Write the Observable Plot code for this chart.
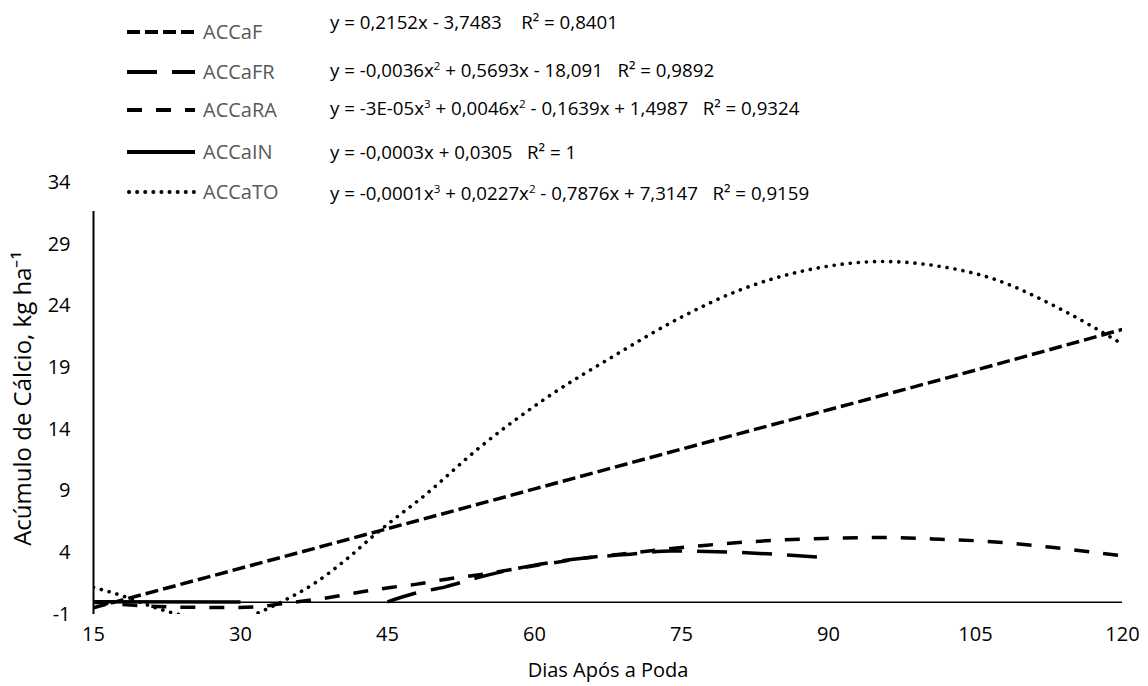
<!DOCTYPE html>
<html>
<head>
<meta charset="utf-8">
<script src="https://cdn.jsdelivr.net/npm/d3@7"></script>
<script src="https://cdn.jsdelivr.net/npm/@observablehq/plot@0.6"></script>
<style>
  body { margin: 0; background: #fff; }
  #wrap { position: relative; width: 1148px; height: 686px; font-family: "Open Sans", sans-serif; }
  #chart { position: absolute; left: 0; top: 0; }
  #legend { position: absolute; left: 80px; top: 0; width: 880px; height: 211px; background: #fff; }
  .sample { position: absolute; left: 47px; width: 70px; height: 12px; }
  .lab { position: absolute; left: 123px; font-size: 20px; line-height: 24px; color: #595959; white-space: pre; }
  .eq { position: absolute; left: 250px; font-size: 18.7px; line-height: 24px; color: #000; white-space: pre; }
  .eq sup { font-size: 0.62em; line-height: 0; vertical-align: 0.62em; }
</style>
</head>
<body>
<div id="wrap">
  <div id="chart"></div>
  <div id="legend"></div>
</div>
<script>
// ---- data ----
const seriesNames = ["ACCaF", "ACCaFR", "ACCaRA", "ACCaIN", "ACCaTO"];
const equations = [
  "y = 0,2152x - 3,7483    R² = 0,8401",
  "y = -0,0036x<sup>2</sup> + 0,5693x - 18,091   R² = 0,9892",
  "y = -3E-05x<sup>3</sup> + 0,0046x<sup>2</sup> - 0,1639x + 1,4987   R² = 0,9324",
  "y = -0,0003x + 0,0305   R² = 1",
  "y = -0,0001x<sup>3</sup> + 0,0227x<sup>2</sup> - 0,7876x + 7,3147   R² = 0,9159"
];
const xTicks = [15, 30, 45, 60, 75, 90, 105, 120];
const yTicks = [-1, 4, 9, 14, 19, 24, 29, 34];

const xF = [15, 45, 75, 105, 120];
const yF = [-0.45, 5.95, 12.4, 18.8, 22.1];

const xFR = [45, 47.7, 50.9, 54.5, 60, 64.7, 69.8, 74, 80, 85, 90];
const yFR = [0.03, 0.7, 1.24, 2.05, 3.0, 3.54, 3.89, 4.14, 4.06, 3.86, 3.6];

const xRA = [15, 18, 21.5, 25, 29, 32, 34, 37, 39.5, 42.4, 45.3, 48, 51, 55, 60, 65, 70, 74, 77.6, 83.6, 89.5, 95.3, 101.4, 107.4, 113.2, 120];
const yRA = [0.0, -0.2, -0.35, -0.42, -0.43, -0.35, -0.15, 0.15, 0.43, 0.84, 1.19, 1.46, 1.86, 2.3, 2.95, 3.55, 4.0, 4.35, 4.62, 4.97, 5.16, 5.24, 5.1, 4.86, 4.4, 3.75];

const xIN = [15, 30];
const yIN = [0.03, 0.02];

const xTO = [15, 18, 21.5, 24, 27, 30, 32, 34, 37.5, 41, 43.6, 45.8, 48.4, 54.5, 61.3, 68, 75, 81, 87.8, 95.6, 101.4, 106.8, 113.3, 120];
const yTO = [1.2, 0.5, -0.5, -1.05, -1.4, -1.3, -0.8, -0.05, 1.5, 3.6, 5.4, 6.8, 8.4, 12.6, 16.6, 19.9, 23.1, 25.3, 26.9, 27.6, 27.2, 26.2, 23.9, 20.9];

// ---- styles ----
const styles = {
  ACCaF:  {strokeWidth: 3.5, dash: "13,5", cap: "butt"},
  ACCaFR: {strokeWidth: 3.5, dash: "30,15", cap: "butt"},
  ACCaRA: {strokeWidth: 3.5, dash: "15,14", cap: "butt"},
  ACCaIN: {strokeWidth: 3.5, dash: null, cap: "butt"},
  ACCaTO: {strokeWidth: 3.6, dash: "0.1,8", cap: "round"}
};

const rows = (name, xs, ys) => xs.map((x, i) => ({series: name, x, y: ys[i]}));
const dataSets = {
  ACCaF: rows("ACCaF", xF, yF),
  ACCaFR: rows("ACCaFR", xFR, yFR),
  ACCaRA: rows("ACCaRA", xRA, yRA),
  ACCaIN: rows("ACCaIN", xIN, yIN),
  ACCaTO: rows("ACCaTO", xTO, yTO)
};

const lineMarks = seriesNames.map(name => Plot.line(dataSets[name], {
  x: "x", y: "y",
  stroke: "black",
  strokeWidth: styles[name].strokeWidth,
  strokeDasharray: styles[name].dash || undefined,
  strokeLinecap: styles[name].cap,
  curve: "monotone-x",
  clip: true
}));

const chart = Plot.plot({
  width: 1148,
  height: 686,
  marginLeft: 93,
  marginRight: 26,
  marginTop: 182,
  marginBottom: 72,
  style: {fontFamily: "'Open Sans', sans-serif", fontSize: "20px", color: "#000", background: "#fff"},
  x: {domain: [15, 120], ticks: xTicks, tickSize: 0, tickPadding: 12, tickFormat: d => `${d}`,
      label: "Dias Após a Poda", labelAnchor: "center", labelOffset: 62, labelArrow: "none"},
  y: {domain: [-1, 34], ticks: yTicks, tickSize: 0, tickPadding: 23, tickFormat: d => `${d}`,
      label: "Acúmulo de Cálcio, kg ha⁻¹", labelAnchor: "center", labelOffset: 80, labelArrow: "none"},
  marks: [
    Plot.ruleY([0], {stroke: "black", strokeWidth: 1.5}),
    Plot.ruleX([15], {stroke: "black", strokeWidth: 2}),
    ...lineMarks
  ]
});
const yLab = chart.querySelector('[aria-label="y-axis label"]');
if (yLab) yLab.style.fontSize = "24px";
document.getElementById("chart").appendChild(chart);

// ---- legend ----
const legend = document.getElementById("legend");
const labelCenters = [32, 72, 110, 152, 192];
const eqCenters = [22, 70, 108, 152, 193];
seriesNames.forEach((name, i) => {
  const st = styles[name];
  const s = document.createElementNS("http://www.w3.org/2000/svg", "svg");
  s.setAttribute("class", "sample");
  s.setAttribute("width", 70);
  s.setAttribute("height", 12);
  s.style.top = (labelCenters[i] - 6) + "px";
  const ln = document.createElementNS("http://www.w3.org/2000/svg", "line");
  ln.setAttribute("x1", st.cap === "round" ? 2 : 0);
  ln.setAttribute("x2", 68);
  ln.setAttribute("y1", 6);
  ln.setAttribute("y2", 6);
  ln.setAttribute("stroke", "black");
  ln.setAttribute("stroke-width", 4);
  ln.setAttribute("stroke-linecap", st.cap);
  if (st.dash) ln.setAttribute("stroke-dasharray", st.dash);
  s.appendChild(ln);
  legend.appendChild(s);

  const lab = document.createElement("div");
  lab.className = "lab";
  lab.textContent = name;
  lab.style.top = (labelCenters[i] - 12) + "px";
  legend.appendChild(lab);

  const eq = document.createElement("div");
  eq.className = "eq";
  eq.innerHTML = equations[i];
  eq.style.top = (eqCenters[i] - 12) + "px";
  legend.appendChild(eq);
});
</script>
</body>
</html>
